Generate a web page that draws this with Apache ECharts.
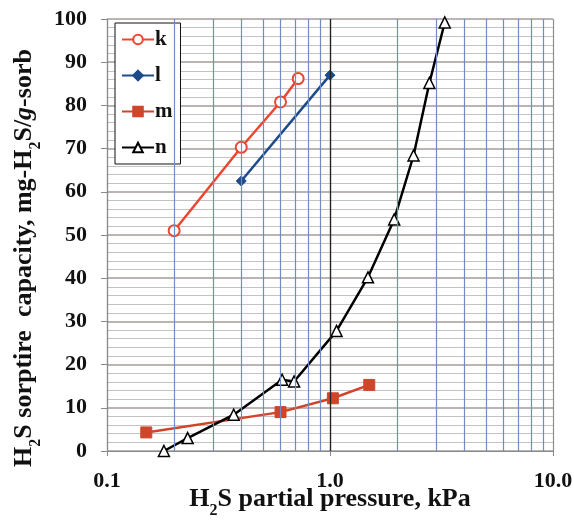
<!DOCTYPE html>
<html>
<head>
<meta charset="utf-8">
<script src="https://cdn.jsdelivr.net/npm/echarts@6/dist/echarts.min.js"></script>
<style>
  html, body { margin: 0; padding: 0; background: #fff; }
  #chart { width: 574px; height: 520px; }
</style>
</head>
<body>
<div id="chart"></div>
<script>
// Sorption capacity vs. H2S partial pressure (log scale)
const seriesNames = ['k', 'l', 'm', 'n'];

const kPressure = [0.2, 0.4, 0.6, 0.72];
const kCapacity = [51, 70.3, 80.8, 86.2];

const lPressure = [0.4, 1.0];
const lCapacity = [62.5, 87];

const mPressure = [0.15, 0.6, 1.03, 1.5];
const mCapacity = [4.3, 9.0, 12.2, 15.3];

const nPressure = [0.18, 0.23, 0.37, 0.61, 0.69, 1.07, 1.48, 1.94, 2.37, 2.79, 3.27];
const nCapacity = [0, 3, 8.4, 16.5, 16.1, 27.8, 40.2, 53.6, 68.4, 85.2, 99.2];

// log-decade gridlines
const minorPressureLines = [0.2, 0.3, 0.4, 0.5, 0.6, 0.7, 0.8, 0.9, 2, 3, 4, 5, 6, 7, 8, 9];
const unitPressureLine = [1];

const xTickLabels = { 0.1: '0.1', 1: '1.0', 10: '10.0' };

const FONT = "'Liberation Serif', 'Times New Roman', serif";

function pairs(xs, ys) { return xs.map((x, i) => [x, ys[i]]); }

const chart = echarts.init(document.getElementById('chart'), null, { renderer: 'canvas' });

// rich styles for titles with subscripts
const titleRich = {
  b: { fontFamily: FONT, fontWeight: 'bold', fontSize: 26, color: '#111', lineHeight: 30, verticalAlign: 'bottom' },
  s: { fontFamily: FONT, fontWeight: 'bold', fontSize: 16, color: '#111', lineHeight: 30, verticalAlign: 'bottom', padding: [0, 0, -7, 0] },
  i: { fontFamily: FONT, fontWeight: 'bold', fontStyle: 'italic', fontSize: 26, color: '#111', lineHeight: 30, verticalAlign: 'bottom' }
};

chart.setOption({
  animation: false,
  backgroundColor: '#fff',
  grid: { left: 107, right: 21, top: 19, bottom: 69, containLabel: false, outerBoundsMode: 'none' },
  legend: {
    data: seriesNames,
    orient: 'vertical',
    left: 115,
    top: 23,
    padding: [6, 8, 6, 6],
    itemWidth: 32,
    itemHeight: 12,
    itemGap: 15,
    backgroundColor: '#fff',
    borderColor: '#111',
    borderWidth: 1,
    textStyle: { fontFamily: FONT, fontWeight: 'bold', fontSize: 21, color: '#111', padding: [0, 0, 0, -4] }
  },
  xAxis: {
    type: 'log',
    logBase: 10,
    min: 0.1,
    max: 10,
    name: '{b|H}{s|2}{b|S partial pressure, kPa}',
    nameLocation: 'middle',
    nameGap: 31,
    nameMoveOverlap: false,
    nameTextStyle: { rich: titleRich },
    axisLine: { show: true, lineStyle: { color: '#8a8a8a', width: 1.2 } },
    axisTick: { show: true, length: 5, lineStyle: { color: '#8a8a8a' } },
    axisLabel: {
      margin: 19,
      fontFamily: FONT, fontWeight: 'bold', fontSize: 22, color: '#111',
      formatter: v => xTickLabels[v] !== undefined ? xTickLabels[v] : ''
    },
    splitLine: { show: true, lineStyle: { color: '#8f8f8f', width: 1.2 } }
  },
  yAxis: {
    type: 'value',
    min: 0,
    max: 100,
    interval: 10,
    name: '{b|H}{s|2}{b|S sorptire  capacity, mg-H}{s|2}{b|S/}{i|g}{b|-sorb}',
    nameLocation: 'middle',
    nameGap: 70,
    nameMoveOverlap: false,
    nameTextStyle: { rich: titleRich, padding: [0, 46, 0, 0] },
    axisLine: { show: true, lineStyle: { color: '#8a8a8a', width: 1.2 } },
    axisTick: { show: true, length: 6, lineStyle: { color: '#8a8a8a' } },
    axisLabel: { margin: 20, fontFamily: FONT, fontWeight: 'bold', fontSize: 22, color: '#111' },
    splitLine: { show: true, lineStyle: { color: '#a39c99', width: 1.6 } },
    minorTick: { show: false, splitNumber: 5 },
    minorSplitLine: { show: true, lineStyle: { color: '#c6c2c2', width: 1 } }
  },
  series: [
    {
      name: 'grid-lines',
      type: 'line',
      data: [],
      z: 1,
      silent: true,
      markLine: {
        silent: true,
        symbol: 'none',
        animation: false,
        label: { show: false },
        data: minorPressureLines.map(v => ({ xAxis: v, lineStyle: { color: '#6f8cc4', width: 1.2, type: 'solid' } }))
          .concat(unitPressureLine.map(v => ({ xAxis: v, lineStyle: { color: '#222', width: 1.3, type: 'solid' } })))
      }
    },
    {
      name: 'k', type: 'line', data: pairs(kPressure, kCapacity),
      symbol: 'circle', symbolSize: 11, z: 4,
      lineStyle: { color: '#ec4631', width: 2.5 },
      itemStyle: { color: '#fff', borderColor: '#ec4631', borderWidth: 2 }
    },
    {
      name: 'l', type: 'line', data: pairs(lPressure, lCapacity),
      symbol: 'diamond', symbolSize: 10, z: 4,
      lineStyle: { color: '#1d4a8a', width: 2.5 },
      itemStyle: { color: '#1d4a8a', borderColor: '#1d4a8a', borderWidth: 1 }
    },
    {
      name: 'm', type: 'line', data: pairs(mPressure, mCapacity),
      symbol: 'rect', symbolSize: 11, z: 4,
      lineStyle: { color: '#d0452a', width: 2.5 },
      itemStyle: { color: '#d0452a', borderColor: '#d0452a', borderWidth: 1 }
    },
    {
      name: 'n', type: 'line', data: pairs(nPressure, nCapacity),
      symbol: 'triangle', symbolSize: 11, z: 4,
      lineStyle: { color: '#000', width: 2.5 },
      itemStyle: { color: '#fff', borderColor: '#000', borderWidth: 1.5 }
    }
  ]
});
</script>
</body>
</html>
